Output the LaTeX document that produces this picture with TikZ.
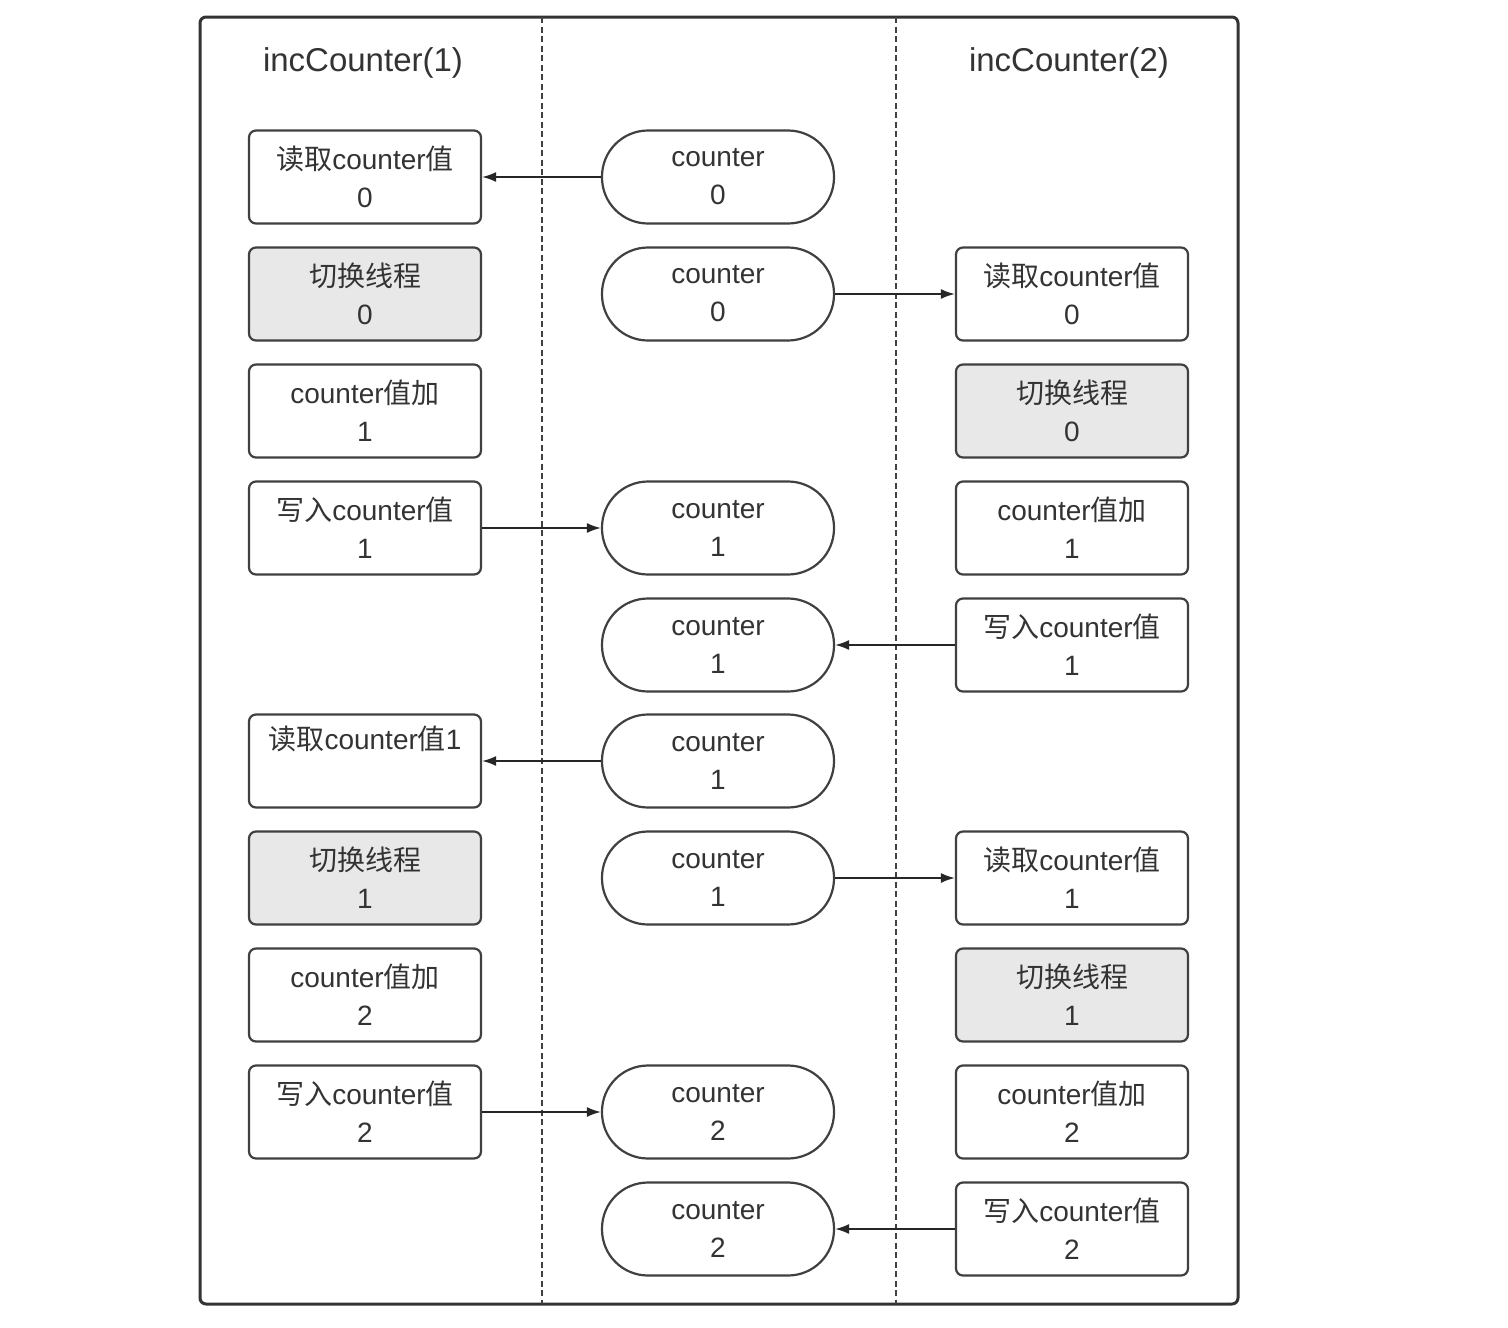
\documentclass[tikz,border=0pt]{standalone}
\usepackage{fontspec}
\setmainfont{Liberation Sans}
\newfontfamily\cjkfont{Noto Sans CJK SC}
\usetikzlibrary{arrows.meta}
\newcommand{\zhc}[1]{{\cjkfont #1}}
\newcommand{\dn}[1]{\raisebox{-3pt}{#1}}
\begin{document}
\begin{tikzpicture}[x=1pt,y=-1pt,
  every node/.style={text=black!80},
  box/.style={draw=black!75, line width=2.2pt, rounded corners=7pt, minimum width=232pt, minimum height=93pt, align=center, font=\fontsize{28}{38}\selectfont, inner sep=0pt},
  gbox/.style={box, fill=black!9},
  pill/.style={box, rounded corners=46pt},
  title/.style={font=\fontsize{33}{38}\selectfont, inner sep=0pt},
  conn/.style={draw=black!85, line width=1.8pt, -{Latex[length=14pt,width=10pt]}},
  sep/.style={draw=black!75, line width=2.6pt, dash pattern=on 6pt off 3.5pt}
]
\useasboundingbox (0,0) rectangle (1508,1328);
\fill[white] (0,0) rectangle (1508,1328);
% frame
\draw[black!80, line width=3pt, rounded corners=6pt] (200,17) rectangle (1238,1304);
\coordinate (s1t) at (542,17); \coordinate (s1b) at (542,1304);
\coordinate (s2t) at (896,17); \coordinate (s2b) at (896,1304);
\draw[sep] (s1t) -- (s1b);
\draw[sep] (s2t) -- (s2b);
% titles
\node[title] (t1) at (363,63) {incCounter(1)};
\node[title] (t2) at (1069,63) {incCounter(2)};
% left column
\node[box]  (L1) at (365,177) {\dn{\zhc{读取}counter\zhc{值}}\\\dn{0}};
\node[gbox] (L2) at (365,294) {\dn{\zhc{切换线程}}\\\dn{0}};
\node[box]  (L3) at (365,411) {\dn{counter\zhc{值加}}\\\dn{1}};
\node[box]  (L4) at (365,528) {\dn{\zhc{写入}counter\zhc{值}}\\\dn{1}};
\node[box]  (L6) at (365,761) {\dn{\zhc{读取}counter\zhc{值}1}\\\strut};
\node[gbox] (L7) at (365,878) {\dn{\zhc{切换线程}}\\\dn{1}};
\node[box]  (L8) at (365,995) {\dn{counter\zhc{值加}}\\\dn{2}};
\node[box]  (L9) at (365,1112) {\dn{\zhc{写入}counter\zhc{值}}\\\dn{2}};
% middle column
\node[pill] (M1) at (718,177) {\dn{counter}\\\dn{0}};
\node[pill] (M2) at (718,294) {\dn{counter}\\\dn{0}};
\node[pill] (M4) at (718,528) {\dn{counter}\\\dn{1}};
\node[pill] (M5) at (718,645) {\dn{counter}\\\dn{1}};
\node[pill] (M6) at (718,761) {\dn{counter}\\\dn{1}};
\node[pill] (M7) at (718,878) {\dn{counter}\\\dn{1}};
\node[pill] (M9) at (718,1112) {\dn{counter}\\\dn{2}};
\node[pill] (M10) at (718,1229) {\dn{counter}\\\dn{2}};
% right column
\node[box]  (R2) at (1072,294) {\dn{\zhc{读取}counter\zhc{值}}\\\dn{0}};
\node[gbox] (R3) at (1072,411) {\dn{\zhc{切换线程}}\\\dn{0}};
\node[box]  (R4) at (1072,528) {\dn{counter\zhc{值加}}\\\dn{1}};
\node[box]  (R5) at (1072,645) {\dn{\zhc{写入}counter\zhc{值}}\\\dn{1}};
\node[box]  (R7) at (1072,878) {\dn{\zhc{读取}counter\zhc{值}}\\\dn{1}};
\node[gbox] (R8) at (1072,995) {\dn{\zhc{切换线程}}\\\dn{1}};
\node[box]  (R9) at (1072,1112) {\dn{counter\zhc{值加}}\\\dn{2}};
\node[box]  (R10) at (1072,1229) {\dn{\zhc{写入}counter\zhc{值}}\\\dn{2}};
% connectors
\draw[conn] (M1) -- (L1);
\draw[conn] (M2) -- (R2);
\draw[conn] (L4) -- (M4);
\draw[conn] (R5) -- (M5);
\draw[conn] (M6) -- (L6);
\draw[conn] (M7) -- (R7);
\draw[conn] (L9) -- (M9);
\draw[conn] (R10) -- (M10);
\end{tikzpicture}
\end{document}
